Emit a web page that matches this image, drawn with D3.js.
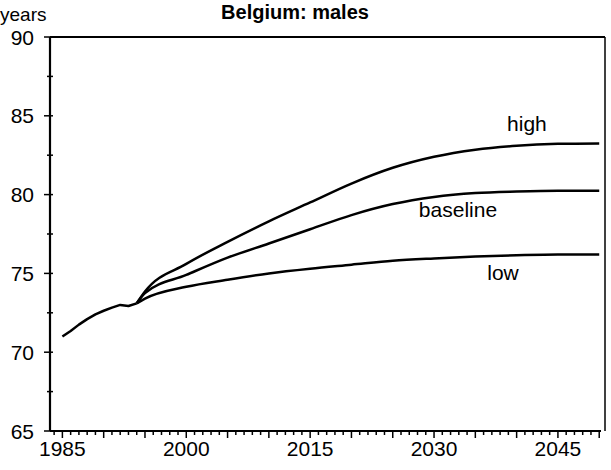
<!DOCTYPE html>
<html><head><meta charset="utf-8">
<script src="https://cdn.jsdelivr.net/npm/d3@7"></script>
<style>
html,body{margin:0;padding:0;background:#fff;}
text{font-family:"Liberation Sans",Arial,Helvetica,sans-serif;fill:#000;}
</style></head>
<body>
<svg id="c" width="611" height="470"></svg>
<script>
const title = "Belgium: males";
const yUnit = "years";
const histYears = [1985,1986,1987,1988,1989,1990,1991,1992,1993,1994];
const histValues = [71.0,71.35,71.75,72.1,72.4,72.63,72.83,73.0,72.93,73.1];
const projYears = [1994,1995,2000,2005,2010,2015,2020,2025,2030,2035,2040,2045,2050];
const highValues = [73.1,73.85,75.6,77.0,78.3,79.5,80.7,81.7,82.4,82.85,83.1,83.22,83.25];
const baselineValues = [73.1,73.75,74.9,76.0,76.9,77.8,78.7,79.4,79.85,80.1,80.2,80.25,80.25];
const lowValues = [73.1,73.4,74.15,74.6,75.0,75.3,75.55,75.8,75.95,76.07,76.15,76.2,76.2];
const seriesNames = ["high","baseline","low"];
const xTickLabels = [1985,2000,2015,2030,2045];
const yTickLabels = [65,70,75,80,85,90];

const svg = d3.select("#c");
const x = d3.scaleLinear().domain([1983.5,2050.7]).range([50,605]);
const y = d3.scaleLinear().domain([65,90]).range([431,37]);

// frame
const fr = svg.append("g").attr("stroke","#000").attr("fill","none");
fr.append("line").attr("x1",x.range()[0]).attr("x2",x.range()[1]).attr("y1",y(90)).attr("y2",y(90)).attr("stroke-width",2);
fr.append("line").attr("x1",x.range()[1]).attr("x2",x.range()[1]).attr("y1",y(90)).attr("y2",y(65)).attr("stroke-width",1.5);

// y axis
const yAxis = svg.append("g").attr("transform",`translate(${x.range()[0]},0)`);
yAxis.append("line").attr("x1",0).attr("x2",0).attr("y1",y(90)).attr("y2",y(65)).attr("stroke","#000").attr("stroke-width",2.2);
d3.range(65,90.01,2.5).forEach(v=>{
  const major = v%5===0;
  yAxis.append("line").attr("x1",major?-6:-3).attr("x2",3).attr("y1",y(v)).attr("y2",y(v))
    .attr("stroke","#000").attr("stroke-width",1.5);
});
yAxis.selectAll("text.yl").data(yTickLabels).join("text").attr("class","yl")
  .attr("x",-16).attr("y",d=>y(d)+2).attr("text-anchor","end").attr("dominant-baseline","middle")
  .attr("font-size",21).text(d=>d);

// x axis
const xAxis = svg.append("g").attr("transform",`translate(0,${y(65)})`);
xAxis.append("line").attr("x1",x.range()[0]).attr("x2",x.range()[1]-4).attr("y1",0).attr("y2",0).attr("stroke","#000").attr("stroke-width",2.2);
d3.range(1984,2051,1).forEach(yr=>{
  const major = yr%5===0;
  xAxis.append("line").attr("x1",x(yr)).attr("x2",x(yr)).attr("y1",0).attr("y2",major?7:4)
    .attr("stroke","#000").attr("stroke-width",1.5);
});
xAxis.selectAll("text.xl").data(xTickLabels).join("text").attr("class","xl")
  .attr("x",d=>x(d)).attr("y",25).attr("text-anchor","middle").attr("font-size",21).text(d=>d);

// lines
const lineGen = d3.line().x(d=>x(d[0])).y(d=>y(d[1]));
const smooth = d3.line().x(d=>x(d[0])).y(d=>y(d[1])).curve(d3.curveMonotoneX);
svg.append("path").attr("d",lineGen(histYears.map((t,i)=>[t,histValues[i]])))
  .attr("fill","none").attr("stroke","#000").attr("stroke-width",2.5).attr("stroke-linejoin","round");
[highValues,baselineValues,lowValues].forEach(vals=>{
  svg.append("path").attr("d",smooth(projYears.map((t,i)=>[t,vals[i]])))
    .attr("fill","none").attr("stroke","#000").attr("stroke-width",2.5);
});

// series labels
const labelPos = [[2041.25,84.05],[2032.9,78.6],[2038.35,74.6]];
seriesNames.forEach((n,i)=>{
  svg.append("text").attr("x",x(labelPos[i][0])).attr("y",y(labelPos[i][1])).attr("text-anchor","middle")
    .attr("font-size",21).text(n);
});

// title & unit
svg.append("text").attr("x",295).attr("y",19).attr("text-anchor","middle").attr("font-size",20)
  .attr("font-weight","bold").text(title);
svg.append("text").attr("x",0).attr("y",21).attr("font-size",19).text(yUnit);
</script>
</body></html>
